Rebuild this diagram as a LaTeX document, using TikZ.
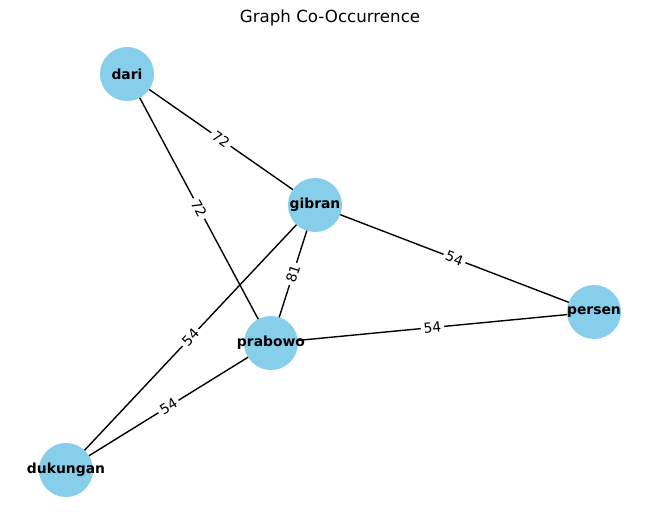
\documentclass[tikz,border=0pt]{standalone}
\usepackage{fontspec}
\setmainfont{DejaVu Sans}
\usepackage{tikz}
\usetikzlibrary{arrows.meta}
\usetikzlibrary{backgrounds,calc}
\definecolor{skyblue}{HTML}{87CEEB}
\newcommand{\wordtext}[1]{\makebox[0pt]{#1}}

\begin{document}
\begin{tikzpicture}[x=0.72pt, y=-0.72pt]
\tikzset{word/.style={circle, fill=skyblue, minimum size=38.9pt, inner sep=0pt, font=\fontsize{10}{12}\selectfont\bfseries}}
\tikzstyle{link} = [line width=1pt, black]
\tikzstyle{weight} = [sloped, fill=white, rounded corners=2pt, inner sep=2pt, font=\fontsize{10}{12}\selectfont]
\useasboundingbox (0,0) rectangle (660,522);
\node (title) at (330,18) {\fontsize{12}{14}\selectfont Graph Co-Occurrence};

\node [word] (dari) at (127,74) {\wordtext{dari}};
\node [word] (gibran) at (315,205) {\wordtext{gibran}};
\node [word] (persen) at (594,312) {\wordtext{persen}};
\node [word] (prabowo) at (271,343) {\wordtext{prabowo}};
\node [word] (dukungan) at (66,470) {\wordtext{dukungan}};

\begin{scope}[on background layer]
\draw [link] (dari.center) -- node [weight] {72} (gibran.center);
\draw [link] (dari.center) -- node [weight] {72} (prabowo.center);
\draw [link] (gibran.center) -- node [weight] {54} (persen.center);
\draw [link] (gibran.center) -- node [weight] {81} (prabowo.center);
\draw [link] (gibran.center) -- node [weight] {54} (dukungan.center);
\draw [link] (prabowo.center) -- node [weight] {54} (persen.center);
\draw [link] (prabowo.center) -- node [weight] {54} (dukungan.center);
\end{scope}
\end{tikzpicture}
\end{document}
